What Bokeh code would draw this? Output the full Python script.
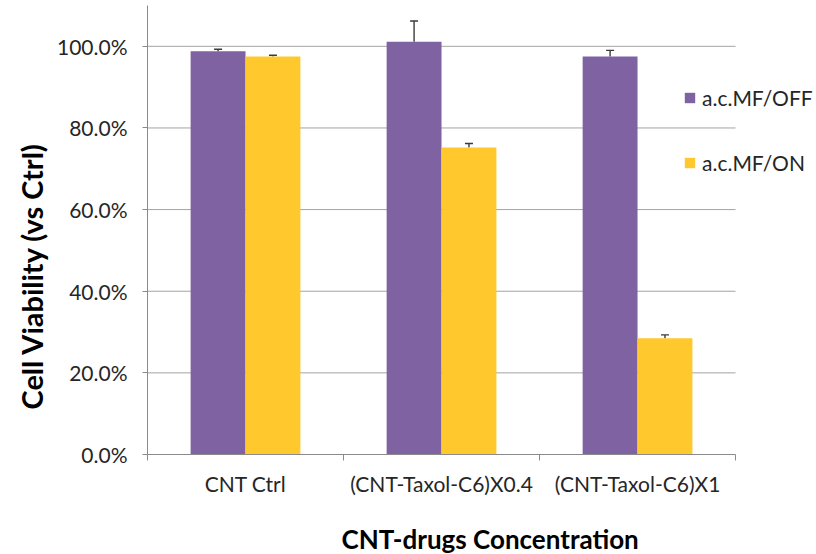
from bokeh.plotting import figure
from bokeh.models import (Range1d, ColumnDataSource, Whisker, TeeHead, Legend, LegendItem,
                          FixedTicker, PrintfTickFormatter, Title)
from bokeh.transform import dodge
from bokeh.embed import file_html
from bokeh.resources import INLINE

# ---- data ----
categories = ["CNT Ctrl", "(CNT-Taxol-C6)X0.4", "(CNT-Taxol-C6)X1"]
series_names = ["a.c.MF/OFF", "a.c.MF/ON"]
off_values = [98.8, 101.1, 97.5]
off_errors = [0.5, 5.1, 1.5]
on_values = [97.5, 75.2, 28.5]
on_errors = [0.3, 1.0, 0.8]
y_ticks = [0, 20, 40, 60, 80, 100]
x_title = "CNT-drugs Concentration"
y_title = "Cell Viability (vs Ctrl)"

PURPLE = "#7F62A1"
YELLOW = "#FFC92E"
FONT = "Lato"

n = len(categories)
centers = [i + 0.5 for i in range(n)]
edges = [float(i) for i in range(n + 1)]

src = ColumnDataSource(dict(
    x=centers,
    off=off_values,
    on=on_values,
    off_up=[v + e for v, e in zip(off_values, off_errors)],
    on_up=[v + e for v, e in zip(on_values, on_errors)],
))

# frame spans the category area plus room on the right for the legend
p = figure(width=816, height=554, x_range=Range1d(0, n + 0.413), y_range=Range1d(0, 110),
           output_backend="svg", toolbar_location=None,
           min_border_left=147, min_border_right=0, min_border_top=5, min_border_bottom=99)
p.outline_line_color = None
p.background_fill_color = "white"
p.border_fill_color = "white"

# horizontal gridlines limited to the category area
p.xgrid.grid_line_color = None
p.ygrid.grid_line_color = None
grid_src = ColumnDataSource(dict(y=y_ticks[1:], x0=[0] * (len(y_ticks) - 1), x1=[n] * (len(y_ticks) - 1)))
p.segment(x0="x0", x1="x1", y0="y", y1="y", source=grid_src, line_color="#A3A3A3", line_width=1)

BW = 0.28
r_off = p.vbar(x=dodge("x", -BW / 2, range=p.x_range), top="off", width=BW, bottom=0,
               source=src, fill_color=PURPLE, line_color=None)
r_on = p.vbar(x=dodge("x", BW / 2, range=p.x_range), top="on", width=BW, bottom=0,
              source=src, fill_color=YELLOW, line_color=None)

for key_val, key_up, off in (("off", "off_up", -BW / 2), ("on", "on_up", BW / 2)):
    w = Whisker(base=dodge("x", off, range=p.x_range), lower=key_val, upper=key_up, source=src,
                dimension="height", line_color="#3A3A3A", line_width=1.4,
                lower_head=None, upper_head=TeeHead(size=8, line_color="#3A3A3A", line_width=1.4))
    p.add_layout(w)

# x axis
xa = p.xaxis[0]
xa.bounds = (0, n)
xa.ticker = FixedTicker(ticks=centers, minor_ticks=edges)
xa.major_label_overrides = {c: lab for c, lab in zip(centers, categories)}
xa.major_tick_line_color = None
xa.major_tick_out = 0
xa.major_tick_in = 0
xa.minor_tick_line_color = "#8A8A8A"
xa.minor_tick_out = 6
xa.minor_tick_in = 0
xa.axis_line_color = "#8A8A8A"
xa.major_label_text_font = FONT
xa.major_label_text_font_size = "21px"
xa.major_label_text_color = "#262626"
xa.major_label_standoff = 10
# invisible spacer label between tick labels and the title below
xa.axis_label = " "
xa.axis_label_text_font_size = "10px"
xa.axis_label_standoff = 8

# y axis
ya = p.yaxis[0]
ya.ticker = FixedTicker(ticks=y_ticks)
ya.formatter = PrintfTickFormatter(format="%.1f%%")
ya.axis_line_color = "#8A8A8A"
ya.major_tick_line_color = "#8A8A8A"
ya.major_tick_out = 5
ya.major_tick_in = 0
ya.minor_tick_line_color = None
ya.major_label_text_font = FONT
ya.major_label_text_font_size = "21px"
ya.major_label_text_color = "#262626"
ya.major_label_standoff = 15

# axis titles as side titles (allows offsetting them along the axis)
p.add_layout(Title(text=x_title, align="left", offset=194, standoff=0,
                   text_font=FONT, text_font_style="bold", text_font_size="26px",
                   text_color="#000000"), "below")
p.add_layout(Title(text=y_title, align="left", offset=45, standoff=10,
                   text_font=FONT, text_font_style="bold", text_font_size="29px",
                   text_color="#000000"), "left")

legend = Legend(items=[LegendItem(label=series_names[0], renderers=[r_off]),
                       LegendItem(label=series_names[1], renderers=[r_on])],
                location=(536, 279), orientation="vertical",
                label_text_font=FONT, label_text_font_size="21px", label_text_color="#262626",
                glyph_width=13, glyph_height=13, label_standoff=6, label_height=20,
                spacing=40, padding=0, margin=0,
                border_line_color=None, background_fill_alpha=0)
p.add_layout(legend)

open("out.html", "w").write(file_html(p, INLINE))
